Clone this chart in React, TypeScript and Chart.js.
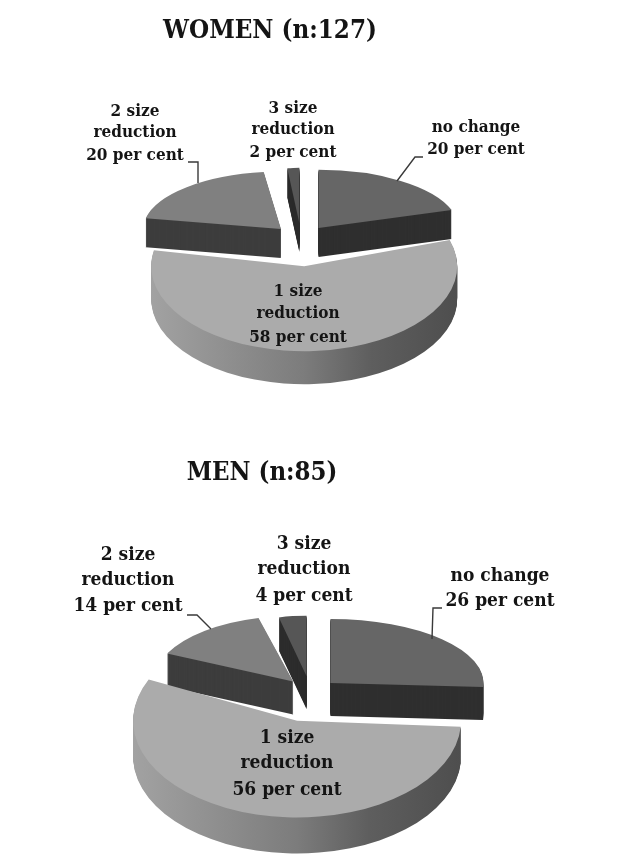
import React, { useEffect, useRef } from 'react';
import { Chart, registerables } from 'chart.js';

Chart.register(...registerables);

// data, clockwise from the top of the pie
const categories = ['no change', '1 size reduction', '2 size reduction', '3 size reduction'];
const womenValues = [20, 58, 20, 2];
const menValues = [26, 56, 14, 4];
const womenTitle = 'WOMEN (n:127)';
const menTitle = 'MEN (n:85)';

const topColors = ['#666666', '#ababab', '#808080', '#565656'];
const sideColors = ['#2f2f2f', '', '#3d3d3d', '#2c2c2c'];
const rimStops: [number, string][] = [[0, '#a2a2a2'], [0.5, '#7c7c7c'], [0.72, '#5e5e5e'], [1, '#4e4e4e']];
const drawOrder = [3, 2, 0, 1];
const fontFamily = '"DejaVu Serif", serif';

interface PieLook {
    title: string;
    values: number[];
    radius: number;
    padding: { top: number; right: number };
    explode: number[];
    scaleX: number[];
    scaleY: number[];
    depth: number[];
    titleFont: number;
    titleAt: [number, number];
    labelFont: number;
    labelCx: number[];
    labelBaselines: number[][];
    leaders: [number, number][][];
}

// sizes of the two canvases are both 624x432, the men one sits below the women one
const women: PieLook = {
    title: womenTitle,
    values: womenValues,
    radius: 153,
    padding: { top: 44, right: 22 },
    explode: [32.5, 51, 32.5, 42],
    scaleX: [0.915, 1, 0.9, 0.63],
    scaleY: [0.38, 0.555, 0.376, 0.36],
    depth: [29, 33, 29, 29],
    titleFont: 25.7,
    titleAt: [270, 38],
    labelFont: 17,
    labelCx: [476, 298, 135, 293],
    labelBaselines: [[132, 154], [296, 318, 342], [116, 137, 160], [113, 134, 157]],
    leaders: [
        [[423, 157], [415, 157], [397, 181]],
        [[188, 162], [198, 162], [198, 183]],
    ],
};

const men: PieLook = {
    title: menTitle,
    values: menValues,
    radius: 164,
    padding: { top: 86, right: 4 },
    explode: [30, 52, 31, 40],
    scaleX: [0.933, 1, 0.85, 0.68],
    scaleY: [0.39, 0.59, 0.4, 0.37],
    depth: [33, 36, 33, 33],
    titleFont: 25.5,
    titleAt: [262, 48],
    labelFont: 19,
    labelCx: [500, 287, 128, 304],
    labelBaselines: [[149, 174], [311, 336, 363], [128, 153, 179], [117, 142, 169]],
    leaders: [
        [[442, 176], [433, 176], [432, 207]],
        [[187, 183], [197, 183], [211, 197]],
    ],
};

const labelLines = (index: number, value: number) => {
    const name = categories[index];
    const cut = name.indexOf(' reduction');
    const head = cut > 0 ? [name.slice(0, cut), 'reduction'] : [name];
    return [...head, `${value} per cent`];
};

const pie3d = (look: PieLook) => ({
    id: 'pie3d',
    beforeDatasetsDraw(chart: any) {
        const ctx: CanvasRenderingContext2D = chart.ctx;
        const arcs = chart.getDatasetMeta(0).data;

        drawOrder.forEach((i) => {
            const arc = arcs[i];
            const mid = (arc.startAngle + arc.endAngle) / 2;
            const paint = (fill: any, drop: number) => {
                const copy = Object.create(arc);
                copy.options = { ...arc.options, backgroundColor: fill };
                ctx.save();
                ctx.translate(arc.x, arc.y + drop);
                ctx.scale(look.scaleX[i], look.scaleY[i]);
                ctx.translate(-arc.x, -arc.y);
                ctx.translate(Math.cos(mid) * look.explode[i], Math.sin(mid) * look.explode[i]);
                copy.draw(ctx);
                ctx.restore();
            };

            let side: any = sideColors[i];
            if (!side) {
                side = ctx.createLinearGradient(arc.x - look.radius, 0, arc.x + look.radius, 0);
                rimStops.forEach(([at, colour]) => side.addColorStop(at, colour));
            }
            for (let d = look.depth[i]; d > 0; d--) paint(side, d);
            paint(topColors[i], 0);
        });

        // leader lines
        ctx.save();
        ctx.strokeStyle = '#3a3a3a';
        ctx.lineWidth = 1.4;
        look.leaders.forEach((line) => {
            ctx.beginPath();
            line.forEach(([x, y], n) => (n ? ctx.lineTo(x, y) : ctx.moveTo(x, y)));
            ctx.stroke();
        });

        // title and labels
        ctx.fillStyle = '#141414';
        ctx.textAlign = 'center';
        ctx.textBaseline = 'alphabetic';
        ctx.font = `bold condensed ${look.titleFont}px ${fontFamily}`;
        ctx.fillText(look.title, look.titleAt[0], look.titleAt[1]);
        ctx.font = `bold condensed ${look.labelFont}px ${fontFamily}`;
        look.values.forEach((value, i) => {
            labelLines(i, value).forEach((text, n) => {
                ctx.fillText(text, look.labelCx[i], look.labelBaselines[i][n]);
            });
        });
        ctx.restore();
        return false;
    },
});

const Pie3D: React.FC<{ look: PieLook; top: number }> = ({ look, top }) => {
    const chartRef = useRef<HTMLCanvasElement>(null);

    useEffect(() => {
        if (!chartRef.current) return;
        const chart = new Chart(chartRef.current, {
            type: 'pie',
            data: {
                labels: categories,
                datasets: [{
                    data: look.values,
                    backgroundColor: topColors,
                    borderWidth: 0,
                    radius: look.radius,
                } as any],
            },
            options: {
                responsive: false,
                animation: false,
                layout: { padding: look.padding },
                plugins: { legend: { display: false }, tooltip: { enabled: false } },
            },
            plugins: [pie3d(look)],
        });
        return () => chart.destroy();
    }, [look]);

    return (
        <canvas
            ref={chartRef}
            width={624}
            height={432}
            style={{ position: 'absolute', left: 0, top, width: 624, height: 432 }}
        />
    );
};

export default function App() {
    return (
        <div style={{ position: 'absolute', left: 0, top: 0, width: 624, height: 864, background: '#fff' }}>
            <Pie3D look={women} top={0} />
            <Pie3D look={men} top={432} />
        </div>
    );
}
